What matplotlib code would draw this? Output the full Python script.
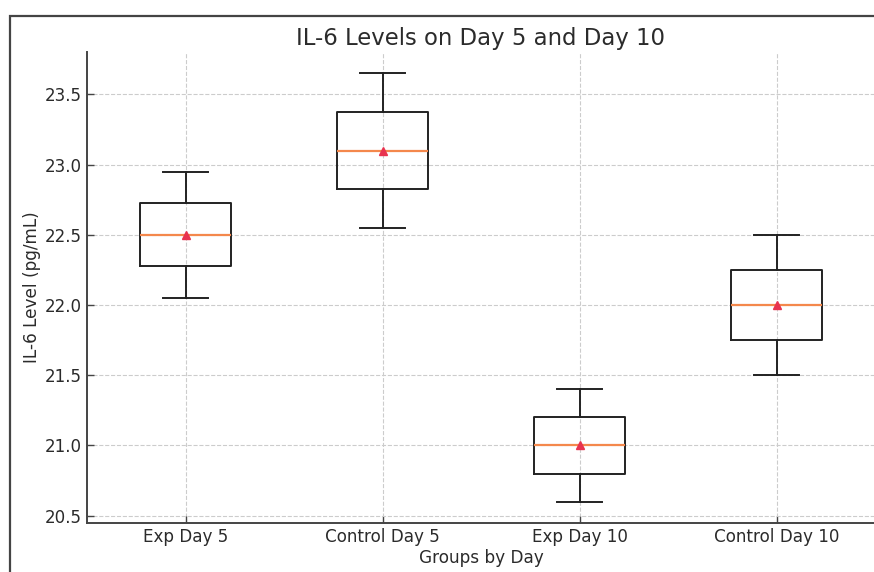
import matplotlib
matplotlib.use("Agg")
import matplotlib.pyplot as plt
from matplotlib.patches import Rectangle

# values (five evenly spread readings per group)
groups = ["Exp Day 5", "Control Day 5", "Exp Day 10", "Control Day 10"]
exp_day5 = [22.05, 22.275, 22.5, 22.725, 22.95]
control_day5 = [22.55, 22.825, 23.1, 23.375, 23.65]
exp_day10 = [20.6, 20.8, 21.0, 21.2, 21.4]
control_day10 = [21.5, 21.75, 22.0, 22.25, 22.5]
yticks = [20.5, 21.0, 21.5, 22.0, 22.5, 23.0, 23.5]

W, H, DPI = 874, 572, 100
TEXT = "#2b2b2b"
SPINE = "#444444"

fig = plt.figure(figsize=(W / DPI, H / DPI), dpi=DPI)

# outer frame of the original figure (cropped at right and bottom)
fig.patches.append(Rectangle((10 / W, -0.1), 1.2, (H - 16) / H + 0.1,
                             transform=fig.transFigure, fill=False,
                             edgecolor=SPINE, linewidth=1.6))

ax = fig.add_axes([87 / W, (H - 523) / H, (875 - 87) / W, (523 - 52) / H])

ax.boxplot(
    [exp_day5, control_day5, exp_day10, control_day10],
    showmeans=True,
    widths=0.46,
    boxprops=dict(color="#222222", linewidth=1.4),
    whiskerprops=dict(color="#222222", linewidth=1.4),
    capprops=dict(color="#222222", linewidth=1.4),
    medianprops=dict(color="#f4884c", linewidth=1.6),
    meanprops=dict(marker="^", markerfacecolor="#e8334f",
                   markeredgecolor="#e8334f", markersize=5.5),
)

ax.set_xticks([1, 2, 3, 4], groups)
ax.set_yticks(yticks)
ax.tick_params(direction="in", length=5, width=1, colors=SPINE,
               labelcolor=TEXT, labelsize=12.1)
ax.grid(True, linestyle="--", color="#cccccc", linewidth=0.8)
ax.set_axisbelow(True)

for side in ("top", "right"):
    ax.spines[side].set_visible(False)
for side in ("left", "bottom"):
    ax.spines[side].set_color(SPINE)
    ax.spines[side].set_linewidth(1.4)

ax.set_title("IL-6 Levels on Day 5 and Day 10", fontsize=16.4, color=TEXT, pad=5)
ax.set_xlabel("Groups by Day", fontsize=12.2, color=TEXT, labelpad=2)
ax.set_ylabel("IL-6 Level (pg/mL)", fontsize=12.2, color=TEXT, labelpad=3)

fig.savefig("out.png", dpi=DPI)
